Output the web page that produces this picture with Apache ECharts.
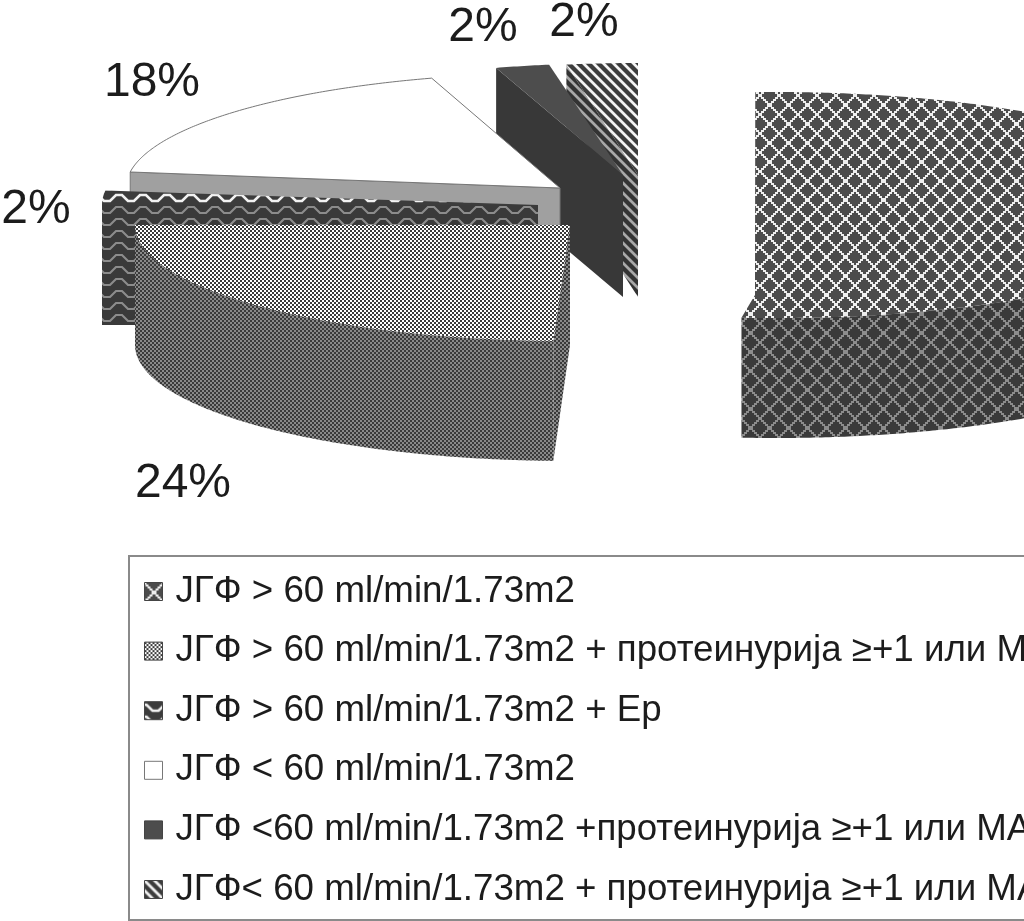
<!DOCTYPE html>
<html><head><meta charset="utf-8">
<style>html,body{margin:0;padding:0;background:#fff;overflow:hidden;width:1024px;height:921px}#c{width:1700px;height:1100px}</style>
<script src="https://cdn.jsdelivr.net/npm/echarts@6/dist/echarts.min.js"></script>
</head><body><div id="c"></div>
<script>
const categories = [
  'JГФ > 60 ml/min/1.73m2',
  'JГФ > 60 ml/min/1.73m2 + протеинурија ≥+1 или МА',
  'JГФ > 60 ml/min/1.73m2 + Ер',
  'JГФ < 60 ml/min/1.73m2',
  'JГФ <60 ml/min/1.73m2 +протеинурија ≥+1 или МА',
  'JГФ< 60 ml/min/1.73m2 + протеинурија ≥+1 или МА + Ер'
];
const values = [52, 24, 2, 18, 2, 2];

function tile(w, h, bg, draw) {
  const c = document.createElement('canvas'); c.width = w; c.height = h;
  const g = c.getContext('2d'); g.fillStyle = bg; g.fillRect(0, 0, w, h);
  draw(g); return { image: c, repeat: 'repeat' };
}
function lattice(bg, fg) {
  return tile(19, 19, bg, g => {
    g.fillStyle = fg;
    for (let i = 0; i < 19; i += 2) {
      g.fillRect(i - 1, i, 3, 2); g.fillRect(17 - i, i, 3, 2);
    }
  });
}
function checker(a, b) {
  return tile(4, 4, a, g => { g.fillStyle = b; g.fillRect(0, 0, 2, 2); g.fillRect(2, 2, 2, 2); });
}
function wave(bg, fg, lw) {
  return tile(24, 12, bg, g => {
    g.strokeStyle = fg; g.lineWidth = lw; g.beginPath();
    g.moveTo(-2, 3); g.lineTo(2, 3); g.lineTo(8, 9); g.lineTo(14, 9); g.lineTo(20, 3); g.lineTo(26, 3); g.stroke();
  });
}
function hatch(bg, fg) {
  return tile(10, 10, bg, g => {
    g.strokeStyle = fg; g.lineWidth = 2.8; g.beginPath();
    for (let k = -10; k <= 10; k += 10) { g.moveTo(k - 2, -2); g.lineTo(k + 12, 12); }
    g.stroke();
  });
}

/* per-slice drawing layout (same order as categories) */
const layout = [
  { cx: 776, cy: 205, rx: 440, ry: 113, depth: 120, start: 92.7, skew: 1, pivot: [755, 295], startWall: false, z: 7,
    top: lattice('#4b4b4b', '#eeeeee'), wall: lattice('#3a3a3a', '#8c8c8c'), stroke: null, label: null },
  { cx: 570, cy: 225, rx: 435, ry: 116, depth: 120, start: 267.8, skew: 87.8 / 86.4, startWall: true, z: 6,
    top: checker('#ffffff', '#3a3a3a'), wall: checker('#3a3a3a', '#8a8a8a'), stroke: null, label: [183, 484] },
  { cx: 538, cy: 205, rx: 436, ry: 116, depth: 120, start: 180, skew: 1, startWall: true, z: 5,
    top: wave('#3c3c3c', '#f2f2f2', 2.6), wall: wave('#3a3a3a', '#8c8c8c', 2.2), stroke: null, label: [36, 210] },
  { cx: 560, cy: 188, rx: 434, ry: 115, depth: 120, start: 172, skew: 1, startWall: true, z: 4,
    top: '#ffffff', wall: '#a0a0a0', stroke: '#777777', label: [152, 83] },
  { cx: 623, cy: 175, rx: 434, ry: 112, depth: 122, start: 107, skew: 1, startWall: true, z: 3,
    top: '#4d4d4d', wall: '#383838', stroke: null, label: [483, 28] },
  { cx: 638, cy: 175, rx: 434, ry: 112, depth: 122, start: 99.5, skew: 1.32, startWall: true, z: 2,
    top: hatch('#3c3c3c', '#f4f4f4'), wall: hatch('#333333', '#a8a8a8'), stroke: null, label: [584, 23] }
];

function pt(L, deg, dy) {
  const a = deg * Math.PI / 180;
  return [L.cx + L.rx * Math.cos(a), L.cy - L.ry * Math.sin(a) + (dy || 0)];
}
function arc(L, from, to, dy) {
  const out = [], n = Math.max(2, Math.ceil(Math.abs(from - to) * 2));
  for (let i = 0; i <= n; i++) out.push(pt(L, from + (to - from) * i / n, dy));
  return out;
}
function sliceRender(idx) {
  return function (params, api) {
    const L = layout[idx];
    const value = api.value(0);
    const sweep = value * 3.6 * L.skew;
    const end = L.start - sweep;
    const pivot = L.pivot || [L.cx, L.cy];
    const kids = [];
    if (L.startWall) {
      const s = pt(L, L.start);
      kids.push({ type: 'polygon', shape: { points: [[L.cx, L.cy], s, [s[0], s[1] + L.depth], [L.cx, L.cy + L.depth]] },
        style: { fill: L.wall, stroke: L.stroke, lineWidth: 1 } });
    }
    // front-facing part of the rim: the angles that lie in the lower half of the ellipse
    const hi = L.start < 180 ? Math.min(L.start, 0) : Math.min(L.start, 360);
    const minA = L.start < 180 ? Math.max(end, -180) : Math.max(end, 180);
    if (hi > minA) {
      const topA = arc(L, hi, minA);
      const botA = arc(L, minA, hi, L.depth);
      kids.push({ type: 'polygon', shape: { points: topA.concat(botA) }, style: { fill: L.wall, stroke: L.stroke, lineWidth: 1 } });
    }
    kids.push({ type: 'polygon', shape: { points: [pivot].concat(arc(L, L.start, end)) },
      style: { fill: L.top, stroke: L.stroke, lineWidth: 1 } });
    return { type: 'group', children: kids };
  };
}
function labelRender(params, api) {
  const kids = [];
  layout.forEach((L, i) => {
    if (!L.label) return;
    kids.push({ type: 'text', style: { text: values[i] + '%', x: L.label[0], y: L.label[1], align: 'center', verticalAlign: 'middle',
      font: '48px "Liberation Sans", Arial, sans-serif', fill: '#1c1c1c' } });
  });
  return { type: 'group', children: kids };
}

const series = categories.map((name, i) => ({
  type: 'custom', name, coordinateSystem: 'none', silent: true, z: layout[i].z,
  data: [[values[i]]], renderItem: sliceRender(i), animation: false,
  itemStyle: { color: layout[i].top }
}));
series.push({ type: 'custom', name: 'labels', coordinateSystem: 'none', silent: true, z: 20,
  data: [[0]], renderItem: labelRender, animation: false });

const chart = echarts.init(document.getElementById('c'), null, { renderer: 'canvas' });
chart.setOption({
  animation: false,
  backgroundColor: '#ffffff',
  legend: {
    orient: 'vertical', left: 129, top: 556,
    padding: [17, 60, 12, 15],
    itemWidth: 18, itemHeight: 18, itemGap: 22.6, selectedMode: false, icon: 'rect',
    borderColor: '#8a8a8a', borderWidth: 2, backgroundColor: '#ffffff',
    textStyle: { fontFamily: '"Liberation Sans", Arial, sans-serif', fontSize: 36.7, color: '#1c1c1c', padding: [0, 0, 0, 8] },
    data: categories.map((name, i) => ({
      name, icon: 'rect',
      itemStyle: { color: layout[i].top, borderColor: i === 3 ? '#777777' : '#444444', borderWidth: 1 }
    }))
  },
  series
});
</script></body></html>
